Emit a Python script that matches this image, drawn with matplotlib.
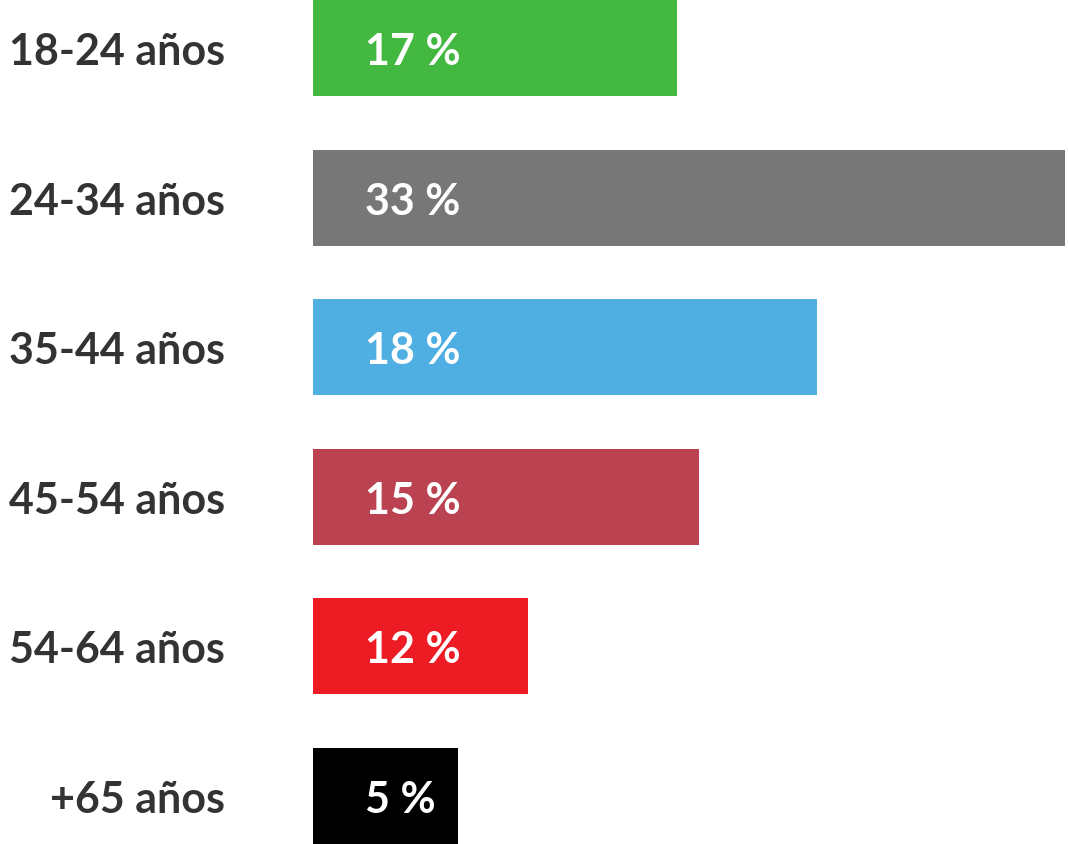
import matplotlib
matplotlib.use("Agg")
import matplotlib.pyplot as plt

categories = ["18-24 años", "24-34 años", "35-44 años", "45-54 años", "54-64 años", "+65 años"]
values = [17, 33, 18, 15, 12, 5]  # shown labels (%)
bar_lengths = [48.2, 99.6, 66.8, 51.1, 28.5, 19.2]  # drawn lengths (relative, as in the picture)
colors = ["#42b840", "#777777", "#4faee2", "#bb4351", "#ed1c24", "#000000"]

fig = plt.figure(figsize=(10.68, 8.44), dpi=100)
ax = fig.add_axes([313 / 1068, 0, 1 - 313 / 1068, 1])
pos = list(range(len(categories)))
ax.barh(pos, bar_lengths, height=0.642, color=colors)
ax.set_xlim(0, 100)
ax.set_ylim(len(categories) - 1 + 0.321, -0.321)
ax.axis("off")

font = "Lato"
for p, cat, v in zip(pos, categories, values):
    ax.annotate(cat, xy=(0, p), xycoords=("axes fraction", "data"),
                xytext=(-88 * 0.72, -4 * 0.72), textcoords="offset points",
                ha="right", va="center", fontsize=31, fontweight="bold",
                color="#333333", family=font)
    ax.annotate(f"{v} %", xy=(0, p), xycoords="data",
                xytext=(52 * 0.72, -4 * 0.72), textcoords="offset points",
                ha="left", va="center", fontsize=31, fontweight="bold",
                color="white", family=font)

fig.savefig("out.png", dpi=100)
